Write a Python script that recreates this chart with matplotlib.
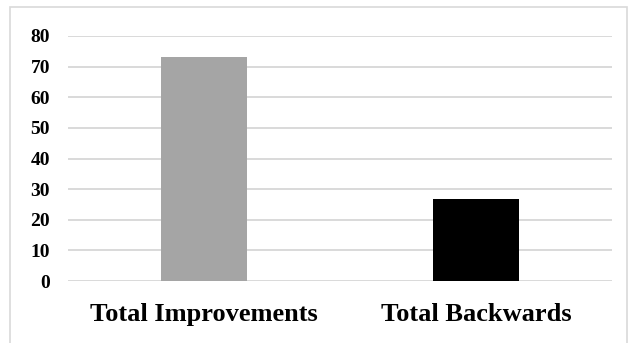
import matplotlib
matplotlib.use("Agg")
import matplotlib.pyplot as plt
from matplotlib.patches import Rectangle

categories = ["Total Improvements", "Total Backwards"]
values = [73.3, 26.7]
bar_colors = ["#a5a5a5", "#000000"]
yticks = [0, 10, 20, 30, 40, 50, 60, 70, 80]

plt.rcParams["font.family"] = ["Liberation Serif", "DejaVu Serif"]
plt.rcParams["font.weight"] = "bold"

fig = plt.figure(figsize=(6.34, 3.43), dpi=100)
ax = fig.add_axes([68 / 634, (343 - 281) / 343, (612 - 68) / 634, (281 - 36) / 343])

x = range(len(categories))
ax.bar(x, values, width=0.316, color=bar_colors, zorder=3)

ax.set_xlim(-0.5, len(categories) - 0.5)
ax.set_ylim(0, 80)
ax.set_yticks(yticks)
ax.set_yticklabels([str(v) for v in yticks], fontsize=14, fontweight="bold")
ax.set_xticks(list(x))
ax.set_xticklabels(categories, fontsize=19, fontweight="bold")

ax.yaxis.grid(True, color="#d9d9d9", linewidth=1.4, zorder=0)
ax.set_axisbelow(True)
for side in ["top", "right", "left", "bottom"]:
    ax.spines[side].set_visible(False)
ax.tick_params(axis="y", length=0, pad=13)
ax.tick_params(axis="x", length=0, pad=16)

# light frame around the chart area
fig.patches.append(Rectangle((10 / 634, -0.05), (627 - 10) / 634, (343 - 7) / 343 + 0.05,
                             transform=fig.transFigure, fill=False,
                             edgecolor="#d9d9d9", linewidth=1.2))

fig.savefig("out.png", dpi=100)
